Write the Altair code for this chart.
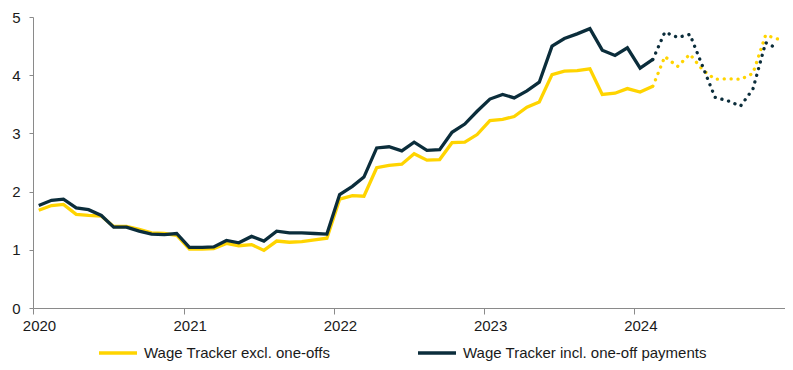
import altair as alt
import pandas as pd

SERIES_EXCL = "Wage Tracker excl. one-offs"
SERIES_INCL = "Wage Tracker incl. one-off payments"

# Monthly observations Jan 2020 .. Dec 2024 (mid-month)
months = [f"{y}-{m:02d}-15" for y in range(2020, 2025) for m in range(1, 13)]

excl = [1.68, 1.76, 1.78, 1.61, 1.59, 1.58, 1.40, 1.40, 1.35, 1.29, 1.28, 1.25,
        1.01, 1.01, 1.02, 1.11, 1.07, 1.09, 0.99, 1.15, 1.13, 1.14, 1.17, 1.20,
        1.87, 1.93, 1.92, 2.41, 2.45, 2.47, 2.65, 2.54, 2.55, 2.84, 2.85, 2.98,
        3.22, 3.24, 3.29, 3.45, 3.54, 4.01, 4.07, 4.08, 4.11, 3.67, 3.69, 3.77,
        3.71, 3.81, 4.32, 4.15, 4.36, 4.09, 3.93, 3.94, 3.93, 4.03, 4.69, 4.62]

incl = [1.76, 1.85, 1.87, 1.72, 1.69, 1.59, 1.39, 1.39, 1.32, 1.27, 1.26, 1.28,
        1.04, 1.04, 1.05, 1.16, 1.12, 1.23, 1.15, 1.32, 1.29, 1.29, 1.28, 1.27,
        1.95, 2.09, 2.25, 2.75, 2.77, 2.70, 2.85, 2.71, 2.72, 3.02, 3.16, 3.38,
        3.59, 3.67, 3.61, 3.73, 3.88, 4.50, 4.63, 4.71, 4.80, 4.43, 4.34, 4.47,
        4.12, 4.27, 4.74, 4.65, 4.70, 4.15, 3.62, 3.56, 3.47, 3.76, 4.56, 4.45]

last_actual = 49  # Feb 2024; forecast (dotted) from here on

rows_actual, rows_fc = [], []
for i, d in enumerate(months):
    for name, vals in ((SERIES_EXCL, excl), (SERIES_INCL, incl)):
        row = {"date": d, "value": vals[i], "series": name}
        if i <= last_actual:
            rows_actual.append(row)
        if i >= last_actual:
            rows_fc.append(row)

df_a = pd.DataFrame(rows_actual)
df_f = pd.DataFrame(rows_fc)

YELLOW = "#ffd400"
DARK = "#0b2d3b"
FONT = "Liberation Sans"

color_scale = alt.Scale(domain=[SERIES_EXCL, SERIES_INCL], range=[YELLOW, DARK])

x_enc = alt.X(
    "date:T",
    scale=alt.Scale(domain=["2020-01-01", "2025-01-01"]),
    axis=alt.Axis(
        values=["2020-01-01", "2021-01-01", "2022-01-01", "2023-01-01",
                "2024-01-01", "2025-01-01"],
        format="%Y",
        labelExpr="year(datum.value) == 2025 ? '' : datum.label",
        title=None, grid=False, tickSize=6, labelPadding=4, labelOffset=6,
        labelFlush=False,
    ),
)
y_enc = alt.Y(
    "value:Q",
    scale=alt.Scale(domain=[0, 5], nice=False),
    axis=alt.Axis(values=[0, 1, 2, 3, 4, 5], title=None, grid=False,
                  tickSize=4, labelPadding=9),
)

solid = alt.Chart(df_a).mark_line(strokeWidth=3.3, strokeJoin="miter").encode(
    x=x_enc, y=y_enc,
    color=alt.Color(
        "series:N", scale=color_scale,
        sort=[SERIES_EXCL, SERIES_INCL],
        legend=alt.Legend(
            title=None, orient="none", direction="horizontal",
            legendX=64, legendY=315, symbolType="stroke", symbolSize=1444,
            symbolStrokeWidth=3.5, labelOffset=5, columnPadding=80,
            labelFontSize=15, labelFont=FONT, labelColor="#1a1a1a",
            labelLimit=500,
        ),
    ),
    detail="series:N",
)

dotted = alt.Chart(df_f).mark_line(
    strokeWidth=3.3, strokeDash=[0.1, 6.8], strokeCap="round"
).encode(
    x=x_enc, y=y_enc,
    color=alt.Color("series:N", scale=color_scale, legend=None),
    detail="series:N",
)

chart = alt.layer(solid, dotted).resolve_legend(color="independent").properties(
    width=752, height=291,
    autosize=alt.AutoSizeParams(type="none"),
    padding={"left": 25, "top": 9, "right": 0, "bottom": 54},
).configure_axis(
    domainColor="#8a8a8a", tickColor="#8a8a8a", domainWidth=1, tickWidth=1,
    labelFont=FONT, labelFontSize=15, labelColor="#1a1a1a",
).configure_view(stroke=None)

chart.save("out.html", embed_options={"renderer": "svg", "actions": False})
